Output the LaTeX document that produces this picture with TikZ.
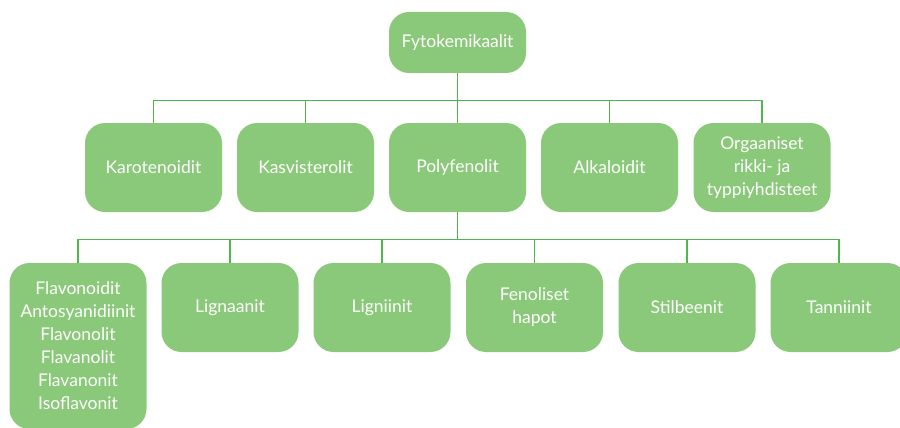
\documentclass[tikz,border=0pt]{standalone}
\usepackage{fontspec}
\setmainfont{Lato}
\usetikzlibrary{positioning,calc}
\definecolor{boxgreen}{HTML}{8BC97A}
\definecolor{linegreen}{HTML}{4DB849}
\tikzset{
  catbox/.style={rounded corners=20pt,fill=boxgreen,text=white,align=center,
    minimum width=137pt,minimum height=89pt,inner sep=2pt,
    font=\fontsize{17.5}{23}\selectfont},
  rootbox/.style={catbox,minimum height=61pt},
  conn/.style={draw=linegreen,line width=1.4pt},
}
\begin{document}
\begin{tikzpicture}[x=1pt,y=-1pt]
  \useasboundingbox (0,0) rectangle (900,428);
  % top level
  \node[rootbox] (fyto) at (457.5,42.5) {Fytokemikaalit};
  % second level
  \node[catbox] (karo) at (153.5,167.5) {Karotenoidit};
  \node[catbox] (kasvi) at (305.5,167.5) {Kasvisterolit};
  \node[catbox] (poly) at (457.5,167.5) {Polyfenolit};
  \node[catbox] (alka) at (609.5,167.5) {Alkaloidit};
  \node[catbox] (rikki) at (762,167.5) {Orgaaniset\\rikki- ja\\typpiyhdisteet};
  % third level
  \node[catbox,minimum height=166pt] (flavo) at (78,346) {Flavonoidit\\Antosyanidiinit\\Flavonolit\\Flavanolit\\Flavanonit\\Isoflavonit};
  \node[catbox] (lign) at (230,307.5) {Lignaanit};
  \node[catbox] (ligni) at (382,307.5) {Ligniinit};
  \node[catbox] (feno) at (534.5,307.5) {Fenoliset\\hapot};
  \node[catbox] (stil) at (687,307.5) {Stilbeenit};
  \node[catbox] (tann) at (839,307.5) {Tanniinit};
  % connectors
  \coordinate (bus1) at ($(fyto.south)+(0,27)$);
  \draw[conn] (fyto.south) -- (bus1);
  \foreach \n in {karo,kasvi,poly,alka,rikki}
    \draw[conn] (bus1) -| (\n.north);
  \coordinate (bus2) at ($(poly.south)+(0,27)$);
  \draw[conn] (poly.south) -- (bus2);
  \foreach \n in {flavo,lign,ligni,feno,stil,tann}
    \draw[conn] (bus2) -| (\n.north);
\end{tikzpicture}
\end{document}
